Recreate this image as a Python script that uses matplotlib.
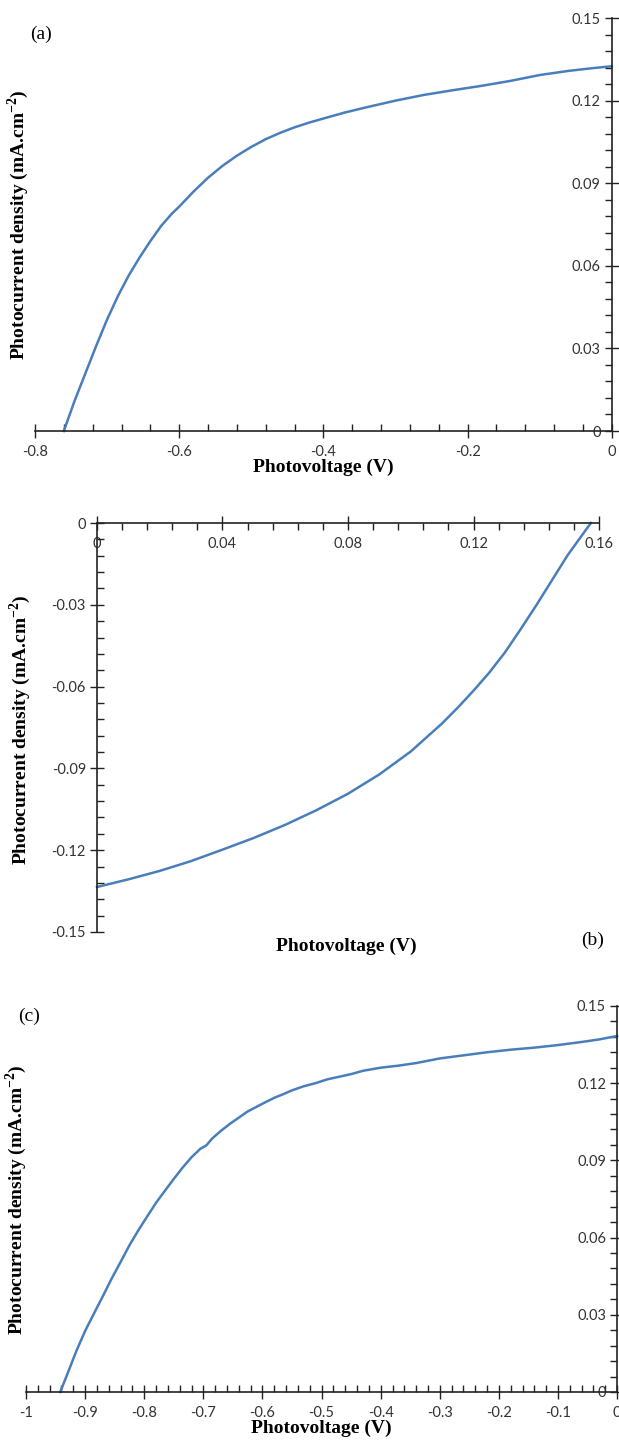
import matplotlib.pyplot as plt
from matplotlib.ticker import MultipleLocator, FuncFormatter

plt.rcParams['mathtext.fontset'] = 'custom'
plt.rcParams['mathtext.rm'] = 'Liberation Serif'
plt.rcParams['mathtext.bf'] = 'Liberation Serif:bold'

# (a) J-V curve
va = [-0.760, -0.745, -0.730, -0.715, -0.700, -0.685, -0.670, -0.655, -0.640,
      -0.625, -0.610, -0.600, -0.580, -0.560, -0.540, -0.520, -0.500, -0.480,
      -0.460, -0.440, -0.420, -0.400, -0.370, -0.340, -0.300, -0.260, -0.220,
      -0.180, -0.140, -0.100, -0.060, -0.030, 0.000]
ja = [0.0000, 0.0110, 0.0210, 0.0310, 0.0405, 0.0490, 0.0565, 0.0630, 0.0690,
      0.0745, 0.0790, 0.0815, 0.0870, 0.0920, 0.0963, 0.1000, 0.1032, 0.1060,
      0.1083, 0.1103, 0.1120, 0.1135, 0.1157, 0.1176, 0.1200, 0.1221, 0.1238,
      0.1254, 0.1272, 0.1293, 0.1308, 0.1317, 0.1325]

# (b)
vb = [0.000, 0.010, 0.020, 0.030, 0.040, 0.050, 0.060, 0.070, 0.080, 0.090,
      0.100, 0.110, 0.115, 0.120, 0.125, 0.130, 0.135, 0.140, 0.145, 0.150,
      0.1574]
jb = [-0.1335, -0.1307, -0.1276, -0.1240, -0.1198, -0.1155, -0.1107, -0.1053,
      -0.0993, -0.0922, -0.0838, -0.0735, -0.0677, -0.0615, -0.0549, -0.0475,
      -0.0390, -0.0302, -0.0210, -0.0118, 0.0]

# (c)
vc = [-0.942, -0.930, -0.915, -0.900, -0.885, -0.870, -0.855, -0.840, -0.825,
      -0.810, -0.795, -0.780, -0.765, -0.750, -0.735, -0.720, -0.705, -0.695,
      -0.685, -0.670, -0.655, -0.640, -0.625, -0.610, -0.595, -0.580, -0.565,
      -0.550, -0.530, -0.510, -0.490, -0.470, -0.450, -0.430, -0.400, -0.370,
      -0.340, -0.300, -0.260, -0.220, -0.180, -0.140, -0.100, -0.060, -0.030,
      -0.010, 0.000]
jc = [0.0000, 0.0070, 0.0158, 0.0237, 0.0305, 0.0372, 0.0441, 0.0505, 0.0570,
      0.0628, 0.0682, 0.0735, 0.0782, 0.0828, 0.0872, 0.0912, 0.0945, 0.0958,
      0.0985, 0.1015, 0.1042, 0.1066, 0.1090, 0.1108, 0.1126, 0.1143, 0.1157,
      0.1172, 0.1188, 0.1200, 0.1215, 0.1225, 0.1235, 0.1248, 0.1260, 0.1268,
      0.1278, 0.1296, 0.1308, 0.1320, 0.1330, 0.1338, 0.1348, 0.1360, 0.1370,
      0.1379, 0.1383]

LINE = "#4a7ebb"
TICKFONT = "Lato"
LABELFONT = "Liberation Serif"
ylab = r"Photocurrent density (mA.cm$^{\mathbf{-2}}$)"
xlab = "Photovoltage (V)"


def fmt(v, pos):
    s = ("%.2f" % v).rstrip("0").rstrip(".")
    if s in ("-0", ""):
        s = "0"
    return s


def style_axis(ax, xmaj, xmin, ymaj, ymin, xminor_dir, yminor_dir):
    ax.xaxis.set_major_locator(MultipleLocator(xmaj))
    ax.xaxis.set_minor_locator(MultipleLocator(xmin))
    ax.yaxis.set_major_locator(MultipleLocator(ymaj))
    ax.yaxis.set_minor_locator(MultipleLocator(ymin))
    ax.xaxis.set_major_formatter(FuncFormatter(fmt))
    ax.yaxis.set_major_formatter(FuncFormatter(fmt))
    ax.tick_params(which="major", direction="inout", length=10, width=1,
                   color="#222222", labelsize=10.5)
    ax.tick_params(axis="x", which="major", pad=5)
    ax.tick_params(axis="y", which="major", pad=3)
    ax.tick_params(axis="x", which="minor", direction=xminor_dir, length=5,
                   width=1, color="#222222")
    ax.tick_params(axis="y", which="minor", direction=yminor_dir, length=5,
                   width=1, color="#222222")
    for lbl in ax.get_xticklabels() + ax.get_yticklabels():
        lbl.set_fontfamily(TICKFONT)
        lbl.set_color("#333333")
    for s in ("top", "right"):
        ax.spines[s].set_visible(False)
    for s in ("left", "bottom"):
        ax.spines[s].set_linewidth(1.2)
        ax.spines[s].set_color("#222222")


fig = plt.figure(figsize=(6.19, 14.42), dpi=100)

# ---- (a)
ax1 = fig.add_axes([0.0565, 0.7011, 0.932, 0.2864])
ax1.plot(va, ja, color=LINE, lw=1.8, clip_on=False)
ax1.set_xlim(-0.8, 0)
ax1.set_ylim(0, 0.15)
ax1.spines["left"].set_position(("data", 0))
ax1.spines["bottom"].set_position(("data", 0))
style_axis(ax1, 0.2, 0.04, 0.03, 0.006, "in", "out")
ax1.set_xlabel(xlab, fontfamily=LABELFONT, fontweight="bold", fontsize=14, labelpad=0)
fig.text(0.029, 0.844, ylab, rotation=90, ha="center", va="center",
         fontfamily=LABELFONT, fontweight="bold", fontsize=14)
fig.text(0.066, 0.976, "(a)", ha="center", va="center",
         fontfamily=LABELFONT, fontsize=14)

# ---- (b)
ax2 = fig.add_axes([0.1567, 0.3537, 0.811, 0.2836])
ax2.plot(vb, jb, color=LINE, lw=1.8, clip_on=False)
ax2.set_xlim(0, 0.16)
ax2.set_ylim(-0.15, 0)
ax2.spines["bottom"].set_position(("data", 0))
style_axis(ax2, 0.04, 0.008, 0.03, 0.006, "out", "in")
fig.text(0.56, 0.344, xlab, ha="center", va="center",
         fontfamily=LABELFONT, fontweight="bold", fontsize=14)
fig.text(0.032, 0.494, ylab, rotation=90, ha="center", va="center",
         fontfamily=LABELFONT, fontweight="bold", fontsize=14)
fig.text(0.958, 0.348, "(b)", ha="center", va="center",
         fontfamily=LABELFONT, fontsize=14)

# ---- (c)
ax3 = fig.add_axes([0.042, 0.0347, 0.955, 0.2677])
ax3.plot(vc, jc, color=LINE, lw=1.8, clip_on=False)
ax3.set_xlim(-1, 0)
ax3.set_ylim(0, 0.15)
ax3.spines["left"].set_position(("data", 0))
ax3.spines["bottom"].set_position(("data", 0))
style_axis(ax3, 0.1, 0.02, 0.03, 0.006, "in", "out")
ax3.set_xlabel(xlab, fontfamily=LABELFONT, fontweight="bold", fontsize=14, labelpad=0)
fig.text(0.026, 0.168, ylab, rotation=90, ha="center", va="center",
         fontfamily=LABELFONT, fontweight="bold", fontsize=14)
fig.text(0.047, 0.295, "(c)", ha="center", va="center",
         fontfamily=LABELFONT, fontsize=14)

fig.savefig("out.png", dpi=100)
